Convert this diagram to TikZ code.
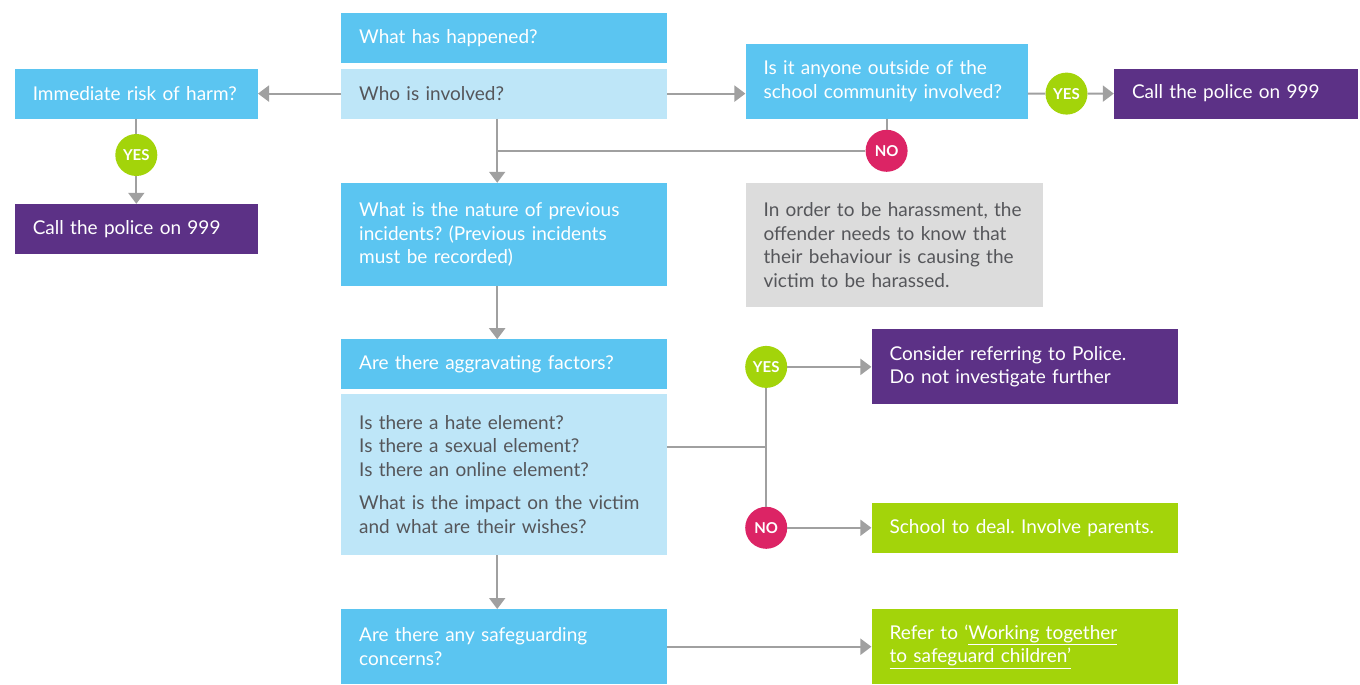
\documentclass[tikz,border=0pt]{standalone}
\usepackage{fontspec}
\setmainfont{Lato}
\usetikzlibrary{arrows.meta, positioning, calc}
\frenchspacing
\definecolor{skyblue}{HTML}{5BC5F1}
\definecolor{paleblue}{HTML}{BEE6F8}
\definecolor{deeppurple}{HTML}{5C3186}
\definecolor{limegreen}{HTML}{A3D40A}
\definecolor{hotpink}{HTML}{DC2465}
\definecolor{notegray}{HTML}{DCDCDC}
\definecolor{linegray}{HTML}{A0A0A0}
\definecolor{textgray}{HTML}{55565A}
\tikzstyle{arrow} = [line width=2pt, draw=linegray, -{Triangle[width=16pt,length=11pt]}]
\tikzstyle{link} = [line width=2pt, draw=linegray]
\tikzstyle{box} = [rectangle, inner xsep=18pt, inner ysep=0pt, align=left, font=\fontsize{19}{23.5}\selectfont]
\tikzstyle{qbox} = [box, fill=skyblue, text=white]
\tikzstyle{infobox} = [box, fill=paleblue, text=textgray]
\tikzstyle{notebox} = [box, fill=notegray, text=textgray]
\tikzstyle{policebox} = [box, fill=deeppurple, text=white]
\tikzstyle{actbox} = [box, fill=limegreen, text=white]
\tikzstyle{dot} = [circle, minimum size=42pt, inner sep=0pt, text=white, font=\bfseries\fontsize{15}{15}\selectfont]
\tikzstyle{yesdot} = [dot, fill=limegreen]
\tikzstyle{nodot} = [dot, fill=hotpink]

\begin{document}
\begin{tikzpicture}[x=1pt, y=-1pt]
    \useasboundingbox (0,0) rectangle (1360,685);

    % Main column
    \node[qbox, text width=290pt, minimum height=50pt, anchor=north west] (happened) at (341,13) {What has happened?};
    \node[infobox, text width=290pt, minimum height=50pt, below=5pt of happened] (involved) {Who is involved?};
    \node[qbox, text width=290pt, minimum height=103pt, below=64pt of involved] (nature) {What is the nature of previous\\incidents? (Previous incidents\\must be recorded)};
    \node[qbox, text width=290pt, minimum height=50pt, below=53pt of nature] (aggr) {Are there aggravating factors?};
    \node[infobox, text width=290pt, minimum height=161pt, below=4pt of aggr] (details) {Is there a hate element?\\Is there a sexual element?\\Is there an online element?\\[10pt]What is the impact on the victim\\and what are their wishes?};
    \node[qbox, text width=290pt, minimum height=75pt, below=54pt of details] (safe) {Are there any safeguarding\\concerns?};

    % Left branch
    \node[qbox, text width=207pt, minimum height=50pt, left=83pt of involved] (risk) {Immediate risk of harm?};
    \node[yesdot, below=15pt of risk] (yesrisk) {YES};
    \node[policebox, text width=207pt, minimum height=50pt, below=85pt of risk] (policeL) {Call the police on 999};

    % Top right branch
    \node[qbox, text width=246pt, minimum height=75pt, right=78pt of involved.south east, anchor=south west] (outside) {Is it anyone outside of the\\school community involved?};
    \node[policebox, text width=208pt, minimum height=50pt, right=86pt of outside.south east, anchor=south west] (policeR) {Call the police on 999};
    \node[yesdot] (yesout) at ($(outside.east |- policeR)!0.45!(policeR.west)$) {YES};
    \node[notebox, text width=261pt, minimum height=124pt, below=64pt of outside.south west, anchor=north west] (note) {In order to be harassment, the\\offender needs to know that\\their behaviour is causing the\\victim to be harassed.};
    \coordinate (split) at ($(involved.south)!0.5!(nature.north)$);
    \node[nodot] (noout) at (outside.south |- split) {NO};

    % Lower right branch
    \node[policebox, text width=270pt, minimum height=75pt, right=204pt of aggr.north east, anchor=north west, yshift=10pt] (consider) {Consider referring to Police.\\Do not investigate further};
    \node[actbox, text width=270pt, minimum height=75pt, right=204pt of safe] (refer) {Refer to ‘\underline{Working together}\\\underline{to safeguard children’}};
    \node[actbox, text width=270pt, minimum height=50pt, above=56pt of refer.north west, anchor=south west] (school) {School to deal. Involve parents.};
    \node[yesdot, left=84pt of consider] (yesmid) {YES};
    \node[nodot, left=84pt of school] (nomid) {NO};
    \coordinate (joint) at ($(yesmid)!0.5!(nomid)$);

    % Connectors
    \coordinate (stem) at ([xshift=-7pt]involved.south);
    \draw[arrow] (involved) -- (risk);
    \draw[link] (risk) -- (yesrisk);
    \draw[arrow] (yesrisk) -- (policeL);
    \draw[arrow] (involved.east) -- (involved.east -| outside.west);
    \draw[link] (outside.east |- policeR) -- (yesout);
    \draw[arrow] (yesout) -- (policeR);
    \draw[link] (outside) -- (noout);
    \draw[link] (noout) -- (noout -| stem);
    \draw[arrow] (stem) -- (stem |- nature.north);
    \draw[arrow] ([xshift=-7pt]nature.south) -- ([xshift=-7pt]aggr.north);
    \draw[arrow] ([xshift=-7pt]details.south) -- ([xshift=-7pt]safe.north);
    \draw[link] (details.east |- joint) -- (joint);
    \draw[link] (yesmid) -- (nomid);
    \draw[arrow] (yesmid) -- (consider);
    \draw[arrow] (nomid) -- (school);
    \draw[arrow] (safe) -- (refer);
\end{tikzpicture}
\end{document}
